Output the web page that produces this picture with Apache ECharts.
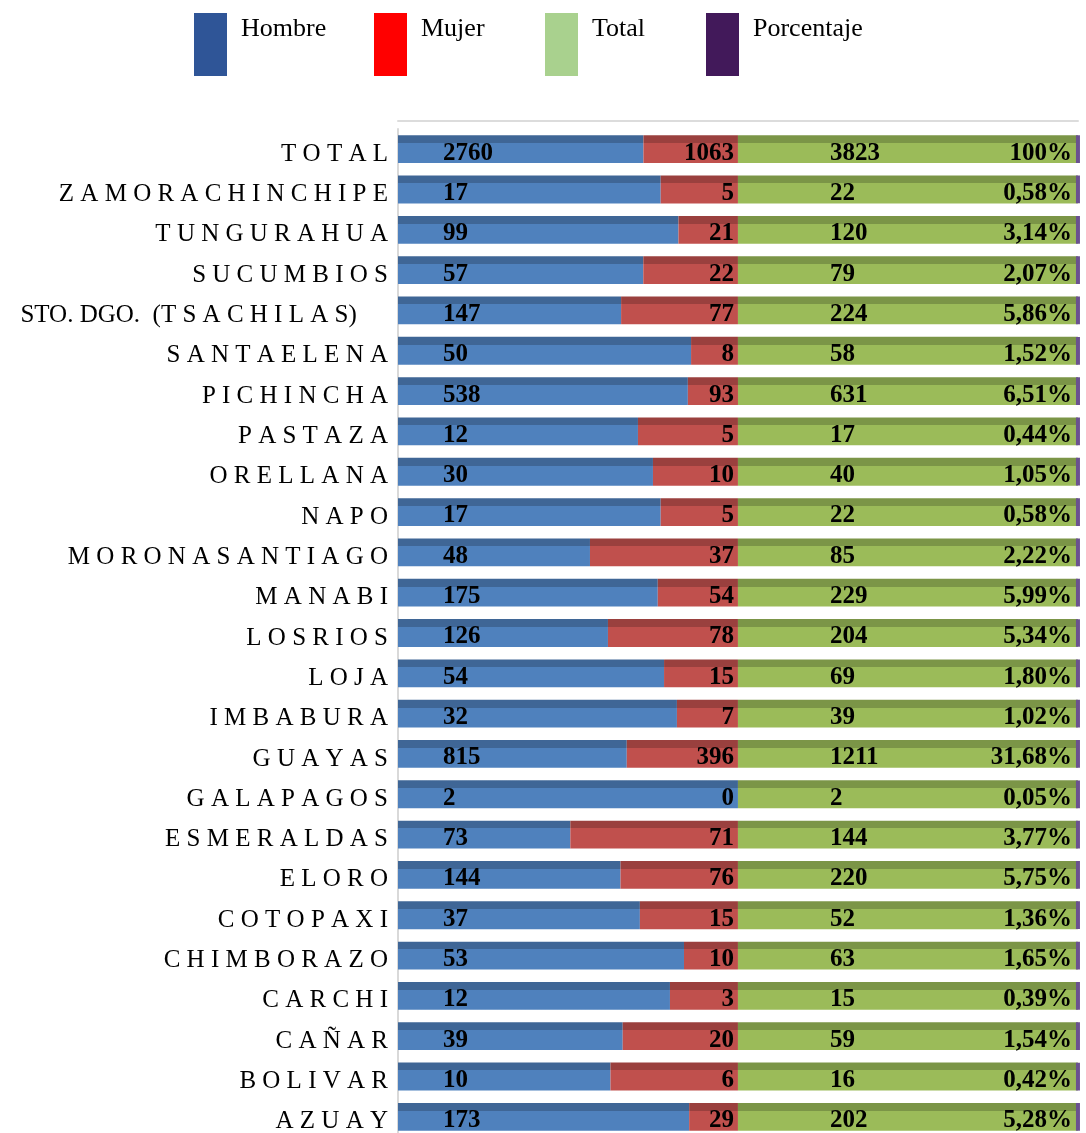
<!DOCTYPE html>
<html>
<head>
<meta charset="utf-8">
<script src="https://cdn.jsdelivr.net/npm/echarts@6/dist/echarts.min.js"></script>
<style>
  html, body { margin: 0; padding: 0; background: #fff; }
  #chart { width: 1086px; height: 1133px; }
</style>
</head>
<body>
<div id="chart"></div>
<script>
// provincias, de arriba hacia abajo como en la tabla
const provincias = ['TOTAL', 'ZAMORA CHINCHIPE', 'TUNGURAHUA', 'SUCUMBIOS', 'STO. DGO.  (TSACHILAS)',
  'SANTA ELENA', 'PICHINCHA', 'PASTAZA', 'ORELLANA', 'NAPO', 'MORONA SANTIAGO', 'MANABI',
  'LOS RIOS', 'LOJA', 'IMBABURA', 'GUAYAS', 'GALAPAGOS', 'ESMERALDAS', 'EL ORO', 'COTOPAXI',
  'CHIMBORAZO', 'CARCHI', 'CAÑAR', 'BOLIVAR', 'AZUAY']
const hombre = [2760, 17, 99, 57, 147, 50, 538, 12, 30, 17, 48, 175, 126, 54, 32, 815, 2, 73, 144, 37, 53, 12, 39, 10, 173]
const mujer = [1063, 5, 21, 22, 77, 8, 93, 5, 10, 5, 37, 54, 78, 15, 7, 396, 0, 71, 76, 15, 10, 3, 20, 6, 29]
const total = [3823, 22, 120, 79, 224, 58, 631, 17, 40, 22, 85, 229, 204, 69, 39, 1211, 2, 144, 220, 52, 63, 15, 59, 16, 202]
const porcentaje = [100, 0.58, 3.14, 2.07, 5.86, 1.52, 6.51, 0.44, 1.05, 0.58, 2.22, 5.99, 5.34, 1.80, 1.02, 31.68, 0.05, 3.77, 5.75, 1.36, 1.65, 0.39, 1.54, 0.42, 5.28]

// apilado al 100 % por fila
const rowSum = provincias.map((_, i) => hombre[i] + mujer[i] + total[i] + porcentaje[i] / 100)
const norm = (arr, k = 1) => arr.map((v, i) => v * k / rowSum[i])

function fmtPct(v) {
  return v === 100 ? '100%' : v.toFixed(2).replace('.', ',') + '%'
}

// etiquetas del eje espaciadas como en el original
function spaced(name) {
  const sp = '\u2005'
  const idx = name.indexOf('(')
  if (idx >= 0) {
    const inner = name.slice(idx + 1, name.indexOf(')'))
    return name.slice(0, idx + 1) + inner.split('').join(sp) + ')\u2003\u2005'
  }
  return name.replace(/ /g, '').split('').join(sp)
}

// cara superior "3D" con un degradado de corte duro
function face(top, base) {
  return {
    type: 'linear', x: 0, y: 0, x2: 0, y2: 1,
    colorStops: [
      { offset: 0, color: top }, { offset: 0.28, color: top },
      { offset: 0.28, color: base }, { offset: 1, color: base }
    ]
  }
}

const labelFont = { fontFamily: 'Liberation Serif', fontWeight: 'bold', fontSize: 25, color: '#000' }

const chart = echarts.init(document.getElementById('chart'))

const legendItem = (name, color, left) => ({
  left: left,
  top: 13,
  padding: 0,
  itemWidth: 33,
  itemHeight: 63,
  icon: 'rect',
  data: [{ name: name, itemStyle: { color: color, borderWidth: 0 } }],
  formatter: n => n + '\n ',
  textStyle: { fontFamily: 'Liberation Serif', fontSize: 26, lineHeight: 30, color: '#000', padding: [0, 0, 0, 9] }
})

chart.setOption({
  animation: false,
  legend: [
    legendItem('Hombre', '#2F5597', 194),
    legendItem('Mujer', '#FF0000', 374),
    legendItem('Total', '#A9D18E', 545),
    legendItem('Porcentaje', '#42195A', 706)
  ],
  grid: { left: 398, right: 8, top: 129, bottom: -4, containLabel: false, outerBoundsMode: 'none' },
  xAxis: {
    type: 'value', min: 0, max: 1, position: 'top', offset: 8,
    axisLine: { show: true, lineStyle: { color: '#dcdcdc', width: 2 } },
    axisLabel: { show: false }, axisTick: { show: false }, splitLine: { show: false }
  },
  yAxis: {
    type: 'category', data: provincias, inverse: true, offset: 4,
    axisLine: { show: true, lineStyle: { color: '#d9d9d9', width: 2 } },
    axisTick: { show: false },
    axisLabel: {
      margin: 6, fontFamily: 'Liberation Serif', fontSize: 25, color: '#000',
      verticalAlign: 'top', lineHeight: 10, formatter: spaced
    }
  },
  series: [
    {
      name: 'Hombre', type: 'bar', stack: 'a', barCategoryGap: '31%',
      data: norm(hombre),
      itemStyle: { color: face('#3F6696', '#4F81BD') },
      label: { show: true, position: 'insideLeft', distance: 45, offset: [0, 4], ...labelFont,
        formatter: p => hombre[p.dataIndex] }
    },
    {
      name: 'Mujer', type: 'bar', stack: 'a',
      data: norm(mujer),
      itemStyle: { color: face('#9A403E', '#C0504D') },
      label: { show: true, position: 'insideRight', distance: 4, offset: [0, 4], ...labelFont,
        formatter: p => mujer[p.dataIndex] }
    },
    {
      name: 'Total', type: 'bar', stack: 'a',
      data: norm(total),
      itemStyle: { color: face('#7B9547', '#9BBB59') },
      label: { show: true, position: 'insideLeft', distance: 92, offset: [0, 4], ...labelFont,
        formatter: p => total[p.dataIndex] }
    },
    {
      name: 'Porcentaje', type: 'bar', stack: 'a',
      data: norm(porcentaje, 0.01),
      itemStyle: { color: '#8064A2', borderColor: '#6A5190', borderWidth: 4 },
      label: { show: true, position: 'left', distance: 4, offset: [0, 4], ...labelFont,
        formatter: p => fmtPct(porcentaje[p.dataIndex]) }
    }
  ]
})
</script>
</body>
</html>
